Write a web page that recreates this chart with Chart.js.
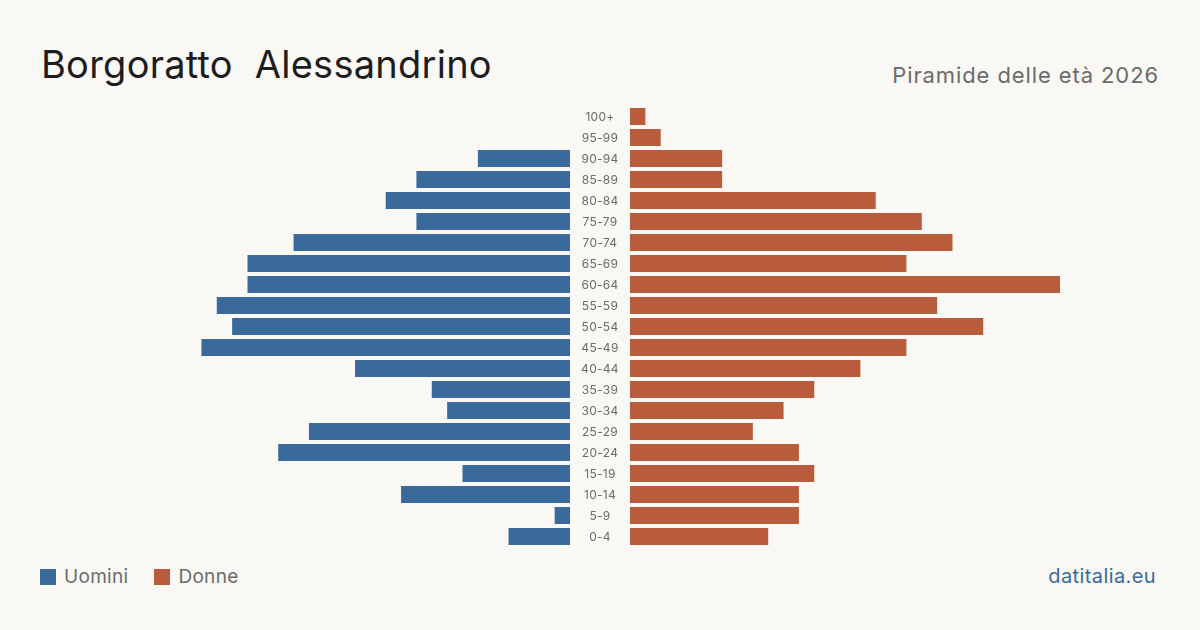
<!DOCTYPE html>
<html lang="it">
<head>
<meta charset="utf-8">
<title>Borgoratto Alessandrino - Piramide delle età 2026</title>
<script src="https://cdn.jsdelivr.net/npm/chart.js@4.4.1/dist/chart.umd.min.js"></script>
<style>
    html, body { margin: 0; padding: 0; }
    body {
        width: 1200px; height: 630px; position: relative; overflow: hidden;
        background: #f9f8f4; font-family: Inter, "Noto Sans", sans-serif;
    }
    #titolo { position: absolute; left: 41px; top: 41px; font-size: 38px; color: #1d1d1d; letter-spacing: 0.25px; white-space: pre; }
    #sottotitolo { position: absolute; right: 41px; top: 62px; font-size: 22px; color: #6b6b6b; letter-spacing: 0.9px; }
    #legenda { position: absolute; left: 40px; top: 565px; font-size: 19px; color: #6b6b6b; display: flex; align-items: center; letter-spacing: 0.3px; }
    #legenda span.box { display: inline-block; width: 16px; height: 16px; margin-right: 8px; }
    #legenda span.voce { display: flex; align-items: center; margin-right: 26px; }
    #fonte { position: absolute; right: 44px; top: 564px; font-size: 20px; color: #3a6a9b; letter-spacing: 0.4px; }
    canvas { position: absolute; }
    #uomini { left: 140px; top: 106px; }
    #donne { left: 570px; top: 106px; }
</style>
</head>
<body>
<div id="titolo">Borgoratto  Alessandrino</div>
<div id="sottotitolo">Piramide delle età 2026</div>
<canvas id="uomini" width="430" height="441"></canvas>
<canvas id="donne" width="490" height="441"></canvas>
<div id="legenda">
    <span class="voce"><span class="box" style="background:#3a6a9b"></span>Uomini</span>
    <span class="voce"><span class="box" style="background:#b95c3c"></span>Donne</span>
</div>
<div id="fonte">datitalia.eu</div>
<script>
// Classi di età, dall'alto verso il basso
const eta = ['100+', '95-99', '90-94', '85-89', '80-84', '75-79', '70-74', '65-69', '60-64', '55-59',
    '50-54', '45-49', '40-44', '35-39', '30-34', '25-29', '20-24', '15-19', '10-14', '5-9', '0-4'];
const uomini = [0, 0, 6, 10, 12, 10, 18, 21, 21, 23, 22, 24, 14, 9, 8, 17, 19, 7, 11, 1, 4];
const donne = [1, 2, 6, 6, 16, 19, 21, 18, 28, 20, 23, 18, 15, 12, 10, 8, 11, 12, 11, 11, 9];
const massimo = 28;

const coloreUomini = '#3a6a9b';
const coloreDonne = '#b95c3c';

// Etichette delle età nello spazio centrale
const etichetteEta = {
    id: 'etichetteEta',
    afterDraw(chart) {
        const ctx = chart.ctx;
        const y = chart.scales.y;
        ctx.save();
        ctx.font = '12px Inter, "Noto Sans", sans-serif';
        ctx.letterSpacing = '0.3px';
        ctx.fillStyle = '#6b6b6b';
        ctx.textAlign = 'center';
        ctx.textBaseline = 'middle';
        eta.forEach(function (label, i) {
            ctx.fillText(label, chart.chartArea.left - 30, y.getPixelForValue(i) + 0.5);
        });
        ctx.restore();
    }
};

function opzioni(reverse, paddingLeft) {
    return {
        responsive: false,
        animation: false,
        indexAxis: 'y',
        layout: { padding: { left: paddingLeft, right: 0, top: 0, bottom: 0 } },
        plugins: { legend: { display: false }, tooltip: { enabled: false } },
        scales: {
            x: { display: false, min: 0, max: massimo, reverse: reverse },
            y: { display: false, offset: true }
        }
    };
}

new Chart(document.getElementById('uomini').getContext('2d'), {
    type: 'bar',
    data: {
        labels: eta,
        datasets: [{
            label: 'Uomini',
            data: uomini,
            backgroundColor: coloreUomini,
            borderWidth: 0,
            barPercentage: 0.81,
            categoryPercentage: 1
        }]
    },
    options: opzioni(true, 0)
});

new Chart(document.getElementById('donne').getContext('2d'), {
    type: 'bar',
    data: {
        labels: eta,
        datasets: [{
            label: 'Donne',
            data: donne,
            backgroundColor: coloreDonne,
            borderWidth: 0,
            barPercentage: 0.81,
            categoryPercentage: 1
        }]
    },
    options: opzioni(false, 60),
    plugins: [etichetteEta]
});
</script>
</body>
</html>
